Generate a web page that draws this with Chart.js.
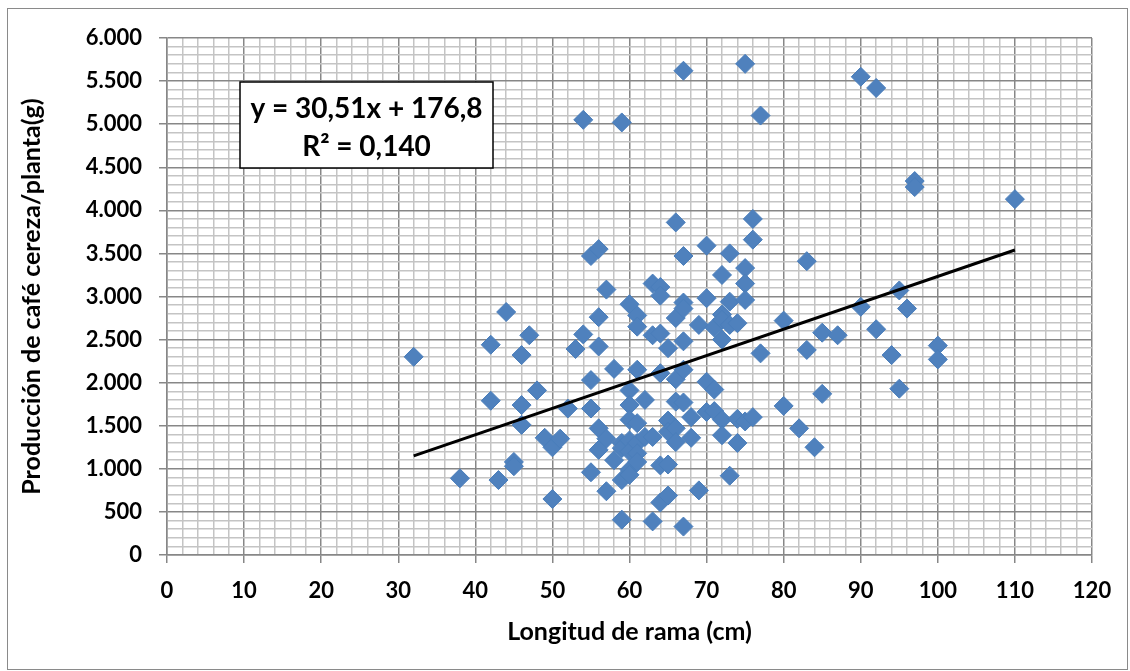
<!DOCTYPE html>
<html><head><meta charset="utf-8">
<script src="https://cdn.jsdelivr.net/npm/chart.js@4.4.0/dist/chart.umd.min.js"></script>
<style>html,body{margin:0;padding:0;background:#fff}canvas{display:block}</style>
</head><body>
<canvas id="c" width="1130" height="671"></canvas>
<script>
const lengthCm = [32,38,42,42,43,44,45,45,46,46,46,47,48,49,50,50,51,52,53,54,54,55,55,55,55,56,56,56,56,56,57,57,57,58,58,59,59,59,59,59,60,60,60,60,60,60,60,60,61,61,61,61,61,61,61,62,62,63,63,63,63,64,64,64,64,64,64,65,65,65,65,65,66,66,66,66,66,66,67,67,67,67,67,67,67,67,68,68,69,69,70,70,70,70,71,71,71,72,72,72,72,72,72,73,73,73,73,74,74,74,75,75,75,75,75,76,76,76,77,77,80,80,82,83,83,84,85,85,87,90,90,92,92,94,95,95,96,97,97,100,100,110];
const productionG = [2300,890,2440,1790,870,2820,1080,1030,2320,1740,1510,2550,1910,1360,1250,650,1350,1700,2390,2560,5050,3470,2030,1700,960,3550,2760,2420,1470,1220,3080,1350,740,2160,1100,5020,1300,1240,870,410,2910,1910,1740,1570,1330,1200,990,930,2780,2650,2150,1530,1300,1180,1080,1800,1370,3150,2550,1370,390,3110,3010,2570,2110,1040,610,2400,1560,1430,1050,690,3860,2750,2040,1780,1470,1310,5620,3470,2930,2860,2480,2150,1770,330,1600,1360,2670,750,3590,2980,2010,1660,2640,1920,1670,3250,2790,2730,2500,1570,1390,3500,2940,2670,920,2690,1580,1300,5700,3330,3150,2960,1550,3900,3660,1600,5100,2340,2720,1730,1470,3410,2380,1250,2580,1870,2550,5550,2880,5420,2620,2320,3070,1930,2860,4340,4270,2430,2270,4130];
const trendX = [32, 110];
const trendY = [1150, 3540];
const xTickLabels = ['0','10','20','30','40','50','60','70','80','90','100','110','120'];
const yTickLabels = ['0','500','1.000','1.500','2.000','2.500','3.000','3.500','4.000','4.500','5.000','5.500','6.000'];
const equationText = 'y = 30,51x + 176,8';
const r2Text = 'R² = 0,140';
const xTitle = 'Longitud de rama (cm)';
const yTitle = 'Producción de café cereza/planta(g)';

const FONT = 'Lato';
const MAJOR = '#878787', MINOR = '#C4C4C4';

const points = lengthCm.map((x, i) => ({x, y: productionG[i]}));
const trend = trendX.map((x, i) => ({x, y: trendY[i]}));

const framePlugin = {
  id: 'frame',
  beforeDraw(chart) {
    const ctx = chart.ctx;
    ctx.save();
    ctx.fillStyle = '#fff';
    ctx.fillRect(0, 0, chart.width, chart.height);
    ctx.strokeStyle = '#8a8a8a';
    ctx.lineWidth = 1;
    ctx.strokeRect(7.5, 8.5, 1120, 661);
    ctx.restore();
  }
};
const eqPlugin = {
  id: 'eq',
  afterDraw(chart) {
    const ctx = chart.ctx, a = chart.chartArea;
    const bx = a.left + 73, by = a.top + 44, bw = 253, bh = 86;
    ctx.save();
    ctx.fillStyle = '#fff';
    ctx.fillRect(bx, by, bw, bh);
    ctx.strokeStyle = '#000';
    ctx.lineWidth = 1.5;
    ctx.strokeRect(bx, by, bw, bh);
    ctx.fillStyle = '#000';
    ctx.font = 'bold 28px ' + FONT;
    ctx.textAlign = 'center';
    ctx.textBaseline = 'middle';
    ctx.fillText(equationText, bx + bw / 2, by + 27);
    ctx.fillText(r2Text, bx + bw / 2, by + 65);
    ctx.restore();
  }
};

const isMajorX = v => v % 10 === 0;
const isMajorY = v => v % 500 === 0;

new Chart(document.getElementById('c'), {
  type: 'scatter',
  data: {
    datasets: [
      { type: 'line', data: trend, borderColor: '#000', borderWidth: 3, pointRadius: 0, fill: false, tension: 0 },
      { data: points, pointStyle: 'rectRot', pointRadius: 9.5, pointHoverRadius: 9.5,
        backgroundColor: '#4F81BD', borderColor: '#4A7EBB', borderWidth: 1 }
    ]
  },
  options: {
    responsive: false,
    animation: false,
    devicePixelRatio: 1,
    layout: { padding: { top: 38, right: 38, left: 0, bottom: 0 } },
    plugins: { legend: { display: false }, tooltip: { enabled: false } },
    font: { family: FONT },
    scales: {
      x: {
        type: 'linear', min: 0, max: 120,
        afterFit(s) { s.height = 116; },
        ticks: {
          stepSize: 2, autoSkip: false, maxRotation: 0, minRotation: 0, padding: 15,
          color: '#000', font: { family: FONT, size: 22, weight: 'bold' },
          callback: v => isMajorX(v) ? xTickLabels[v / 10] : ''
        },
        grid: {
          color: c => isMajorX(c.tick.value) ? MAJOR : MINOR,
          lineWidth: 1.5,
          tickLength: 8,
          tickColor: c => isMajorX(c.tick.value) ? MAJOR : 'rgba(0,0,0,0)'
        },
        border: { color: MAJOR, width: 1.5 },
        title: { display: true, text: xTitle, color: '#000',
          font: { family: FONT, size: 25, weight: 'bold' }, padding: { top: 0, bottom: 24 } }
      },
      y: {
        type: 'linear', min: 0, max: 6000,
        afterFit(s) { s.width = 167; },
        ticks: {
          stepSize: 100, autoSkip: false, padding: 17,
          color: '#000', font: { family: FONT, size: 22, weight: 'bold' },
          callback: v => isMajorY(v) ? yTickLabels[v / 500] : ''
        },
        grid: {
          color: c => isMajorY(c.tick.value) ? MAJOR : MINOR,
          lineWidth: 1.5,
          tickLength: 8,
          tickColor: c => isMajorY(c.tick.value) ? MAJOR : 'rgba(0,0,0,0)'
        },
        border: { color: MAJOR, width: 1.5 },
        title: { display: true, text: yTitle, color: '#000',
          font: { family: FONT, size: 25, weight: 'bold' }, padding: { top: 17, bottom: 0 } }
      }
    }
  },
  plugins: [framePlugin, eqPlugin]
});
</script>
</body></html>
